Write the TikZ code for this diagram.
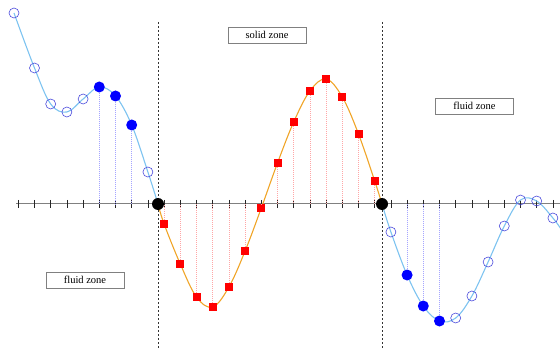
\documentclass[tikz,border=0pt]{standalone}
\usepackage{fontspec}
\setmainfont{Liberation Serif}
\usepackage{tikz}

\definecolor{fluidcurve}{RGB}{125,195,240}
\definecolor{solidcurve}{RGB}{240,165,40}
\definecolor{openblue}{RGB}{75,75,220}

\begin{document}
\begin{tikzpicture}[x=1pt, y=-1pt,
		zonebox/.style={draw=gray, line width=0.6pt, minimum width=78pt, minimum height=16pt, inner sep=0pt, font=\fontsize{10.5}{12}\selectfont},
		openpt/.style={circle, draw=openblue, line width=0.6pt, minimum size=10pt, inner sep=0pt},
		fullpt/.style={circle, fill=blue, minimum size=11pt, inner sep=0pt},
		solidpt/.style={rectangle, fill=red, minimum size=8pt, inner sep=0pt},
		wallpt/.style={circle, fill=black, minimum size=12pt, inner sep=0pt},
		bluedrop/.style={blue!35, line width=0.5pt, dash pattern=on 1pt off 1pt},
		reddrop/.style={red!35, line width=0.5pt, dash pattern=on 1pt off 1pt}]
		\useasboundingbox (0,0) rectangle (560,350);
		\foreach \x in {158, 382} {
				\draw[black!80, line width=0.6pt, dash pattern=on 2pt off 2pt] (\x,22) -- (\x,350);
			}
		\draw[gray, line width=1pt] (16,204) -- (560,204);
		\foreach \k in {0,...,33} {
				\draw[black!85, line width=0.6pt] ({18.3+16.2*\k},200) -- ({18.3+16.2*\k},208);
			}
		\coordinate (bL) at (158,204);
		\coordinate (bR) at (382,204);
		\coordinate (f0) at (14,13);
		\coordinate (rEnd) at (561,229);
		\foreach \k/\y in {1/68, 2/104, 3/112, 4/99, 5/87, 6/96, 7/125, 8/172} {
				\coordinate (f\k) at ({18.3+16.2*\k},\y);
			}
		\foreach \k/\y in {9/224, 10/264, 11/297, 12/307, 13/287, 14/251, 15/208, 16/163, 17/122, 18/91, 19/79, 20/97, 21/134, 22/181} {
				\coordinate (s\k) at ({18.3+16.2*\k},\y);
			}
		\foreach \k/\y in {23/232, 24/275, 25/306, 26/321, 27/318, 28/296, 29/262, 30/226, 31/200, 32/201, 33/218} {
				\coordinate (r\k) at ({18.3+16.2*\k},\y);
			}
		\draw[fluidcurve, line width=1.1pt] plot[smooth, tension=0.6] coordinates {(f0) (f1) (f2) (f3) (f4) (f5) (f6) (f7) (f8) (bL)};
		\draw[solidcurve, line width=1.1pt] plot[smooth, tension=0.6] coordinates {(bL) (s9) (s10) (s11) (s12) (s13) (s14) (s15) (s16) (s17) (s18) (s19) (s20) (s21) (s22) (bR)};
		\draw[fluidcurve, line width=1.1pt] plot[smooth, tension=0.6] coordinates {(bR) (r23) (r24) (r25) (r26) (r27) (r28) (r29) (r30) (r31) (r32) (r33) (rEnd)};
		\foreach \k in {9,...,22} {
				\node[solidpt] (sq\k) at (s\k) {};
				\draw[reddrop] (sq\k) -- (sq\k |- bL);
			}
		\foreach \p in {f5, f6, f7, r24, r25, r26} {
				\node[fullpt] (m\p) at (\p) {};
				\draw[bluedrop] (m\p) -- (m\p |- bL);
			}
		\foreach \p in {f0, f1, f2, f3, f4, f8, r23, r27, r28, r29, r30, r31, r32, r33} {
				\node[openpt] (o\p) at (\p) {};
			}
		\node[wallpt] (wallL) at (bL) {};
		\node[wallpt] (wallR) at (bR) {};
		\node[zonebox] (solidlbl) at (267,35) {solid zone};
		\node[zonebox] (fluidlblR) at (474.5,106) {fluid zone};
		\node[zonebox] (fluidlblL) at (85,280) {fluid zone};
	\end{tikzpicture}
\end{document}
